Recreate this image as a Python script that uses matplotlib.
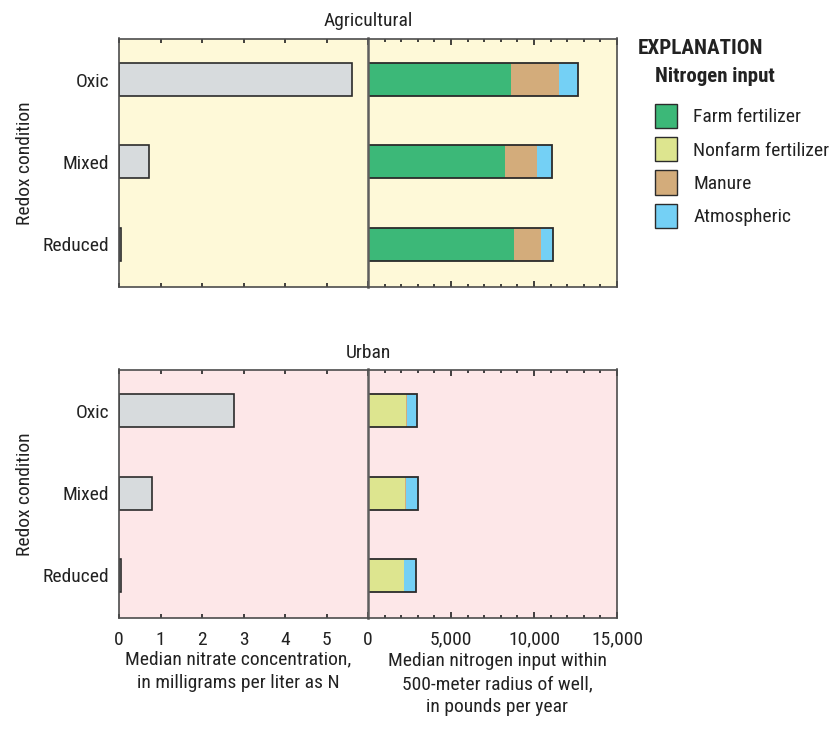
import matplotlib
matplotlib.use('Agg')
import matplotlib.pyplot as plt
from matplotlib import font_manager
from matplotlib.patches import Patch
import numpy as np

# narrow face if one is around, otherwise a compact sans
available = {f.name for f in font_manager.fontManager.ttflist}
narrow = ['Liberation Sans Narrow', 'DejaVu Sans Condensed', 'Roboto Condensed',
          'Open Sans Condensed']
regular = ['Roboto', 'Liberation Sans', 'DejaVu Sans']
font = next((f for f in narrow if f in available), None)
if font is None:
    font = next(f for f in regular if f in available)
    fs = 12.5
else:
    fs = 14
plt.rcParams['font.family'] = [font, 'DejaVu Sans']

redox = ['Oxic', 'Mixed', 'Reduced']

# median nitrate, mg/L as N
nitrate_ag = [5.61, 0.72, 0.04]
nitrate_urb = [2.77, 0.80, 0.04]

# median nitrogen input within 500 m of well, lb/yr
farm_ag = [8630, 8270, 8810]
nonfarm_ag = [0, 0, 0]
manure_ag = [2850, 1930, 1630]
atmos_ag = [1170, 880, 700]

farm_urb = [80, 80, 80]
nonfarm_urb = [2230, 2170, 2060]
manure_urb = [50, 50, 40]
atmos_urb = [610, 710, 690]

sources = ['Farm fertilizer', 'Nonfarm fertilizer', 'Manure', 'Atmospheric']
src_colors = ['#3cb878', '#dde58f', '#d3ac7b', '#74d0f5']

panels = [
    ('Agricultural', '#fef9d8', nitrate_ag, [farm_ag, nonfarm_ag, manure_ag, atmos_ag]),
    ('Urban', '#fde7e8', nitrate_urb, [farm_urb, nonfarm_urb, manure_urb, atmos_urb]),
]

fig = plt.figure(figsize=(8.38, 7.47), dpi=100)
W, H = 838, 747

def px_axes(x0, y0, x1, y1):
    return fig.add_axes([x0 / W, 1 - y1 / H, (x1 - x0) / W, (y1 - y0) / H])

text_col = '#222222'
frame_col = '#4d4d4d'
edge_col = '#2b2b2b'
ypos = np.arange(len(redox))[::-1]
bar_h = 0.40

panel_y = [(38.5, 287), (369.5, 618.3)]

for k, (title, bg, nitrate, inputs) in enumerate(panels):
    y0, y1 = panel_y[k]
    axl = px_axes(119, y0, 368, y1)
    axr = px_axes(368, y0, 617, y1)
    bottom = (k == 1)

    # nitrate concentration
    axl.set_facecolor(bg)
    axl.barh(ypos, nitrate, height=bar_h, color='#d7dbdd', edgecolor=edge_col, linewidth=1.2)
    axl.set_xlim(0, 6)
    axl.set_ylim(-0.52, 2.5)
    axl.set_yticks(ypos)
    axl.set_yticklabels(redox, fontsize=fs, color=text_col)
    axl.tick_params(axis='y', length=0, pad=7)
    axl.set_xticks(np.arange(0, 6))
    axl.tick_params(axis='x', direction='in', length=2.8, width=1.2, top=True,
                    bottom=True, color='#222222', labelsize=fs, labelcolor=text_col,
                    pad=9, labelbottom=bottom)
    axl.spines['right'].set_visible(False)
    for s in ['left', 'top', 'bottom']:
        axl.spines[s].set_color(frame_col)
        axl.spines[s].set_linewidth(1.2)

    # stacked nitrogen inputs
    axr.set_facecolor(bg)
    left = np.zeros(len(redox))
    for vals, c in zip(inputs, src_colors):
        axr.barh(ypos, vals, left=left, height=bar_h, color=c, linewidth=0)
        left += np.array(vals)
    axr.barh(ypos, left, height=bar_h, fill=False, edgecolor=edge_col, linewidth=1.3)
    axr.set_xlim(0, 15000)
    axr.set_ylim(-0.52, 2.5)
    axr.set_yticks([])
    axr.set_xticks([0, 5000, 10000, 15000])
    axr.set_xticklabels(['0', '5,000', '10,000', '15,000'])
    axr.set_xticks(np.arange(1000, 15000, 1000), minor=True)
    axr.tick_params(axis='x', which='major', direction='in', length=4.5, width=1.2,
                    top=True, bottom=True, color='#222222', labelsize=fs,
                    labelcolor=text_col, pad=9, labelbottom=bottom)
    axr.tick_params(axis='x', which='minor', direction='in', length=2.4, width=1.2,
                    top=True, bottom=True, color='#222222')
    for s in ['right', 'top', 'bottom']:
        axr.spines[s].set_color(frame_col)
        axr.spines[s].set_linewidth(1.2)
    axr.spines['left'].set_color('#5e5e5e')
    axr.spines['left'].set_linewidth(1.8)

    fig.text(368 / W, 1 - (y0 - 17) / H, title, fontsize=fs, ha='center',
             va='center', color=text_col)
    fig.text(25 / W, 1 - (y0 + y1) / 2 / H, 'Redox condition', fontsize=fs,
             rotation=90, ha='center', va='center', color=text_col)

fig.text(238 / W, 1 - 671 / H,
         'Median nitrate concentration,\nin milligrams per liter as N',
         fontsize=fs, ha='center', va='center', linespacing=1.38, color=text_col)
fig.text(497 / W, 1 - 684 / H,
         'Median nitrogen input within\n500-meter radius of well,\nin pounds per year',
         fontsize=fs, ha='center', va='center', linespacing=1.38, color=text_col)

# explanation
fig.text(638 / W, 1 - 48 / H, 'EXPLANATION', fontsize=fs + 1.2, fontweight='bold',
         ha='left', va='center', color=text_col)
fig.text(655 / W, 1 - 77 / H, 'Nitrogen input', fontsize=fs + 1, fontweight='bold',
         ha='left', va='center', color=text_col)
handles = [Patch(facecolor=c, edgecolor=edge_col, linewidth=1.0, label=s)
           for s, c in zip(sources, src_colors)]
fig.legend(handles=handles, loc='upper left', bbox_to_anchor=(649 / W, 1 - 98 / H),
           frameon=False, fontsize=fs, handlelength=1.13, handleheight=1.55,
           handletextpad=0.85, labelspacing=0.46, borderaxespad=0, borderpad=0.3,
           labelcolor=text_col)

fig.savefig('out.png', dpi=100, facecolor='white')
